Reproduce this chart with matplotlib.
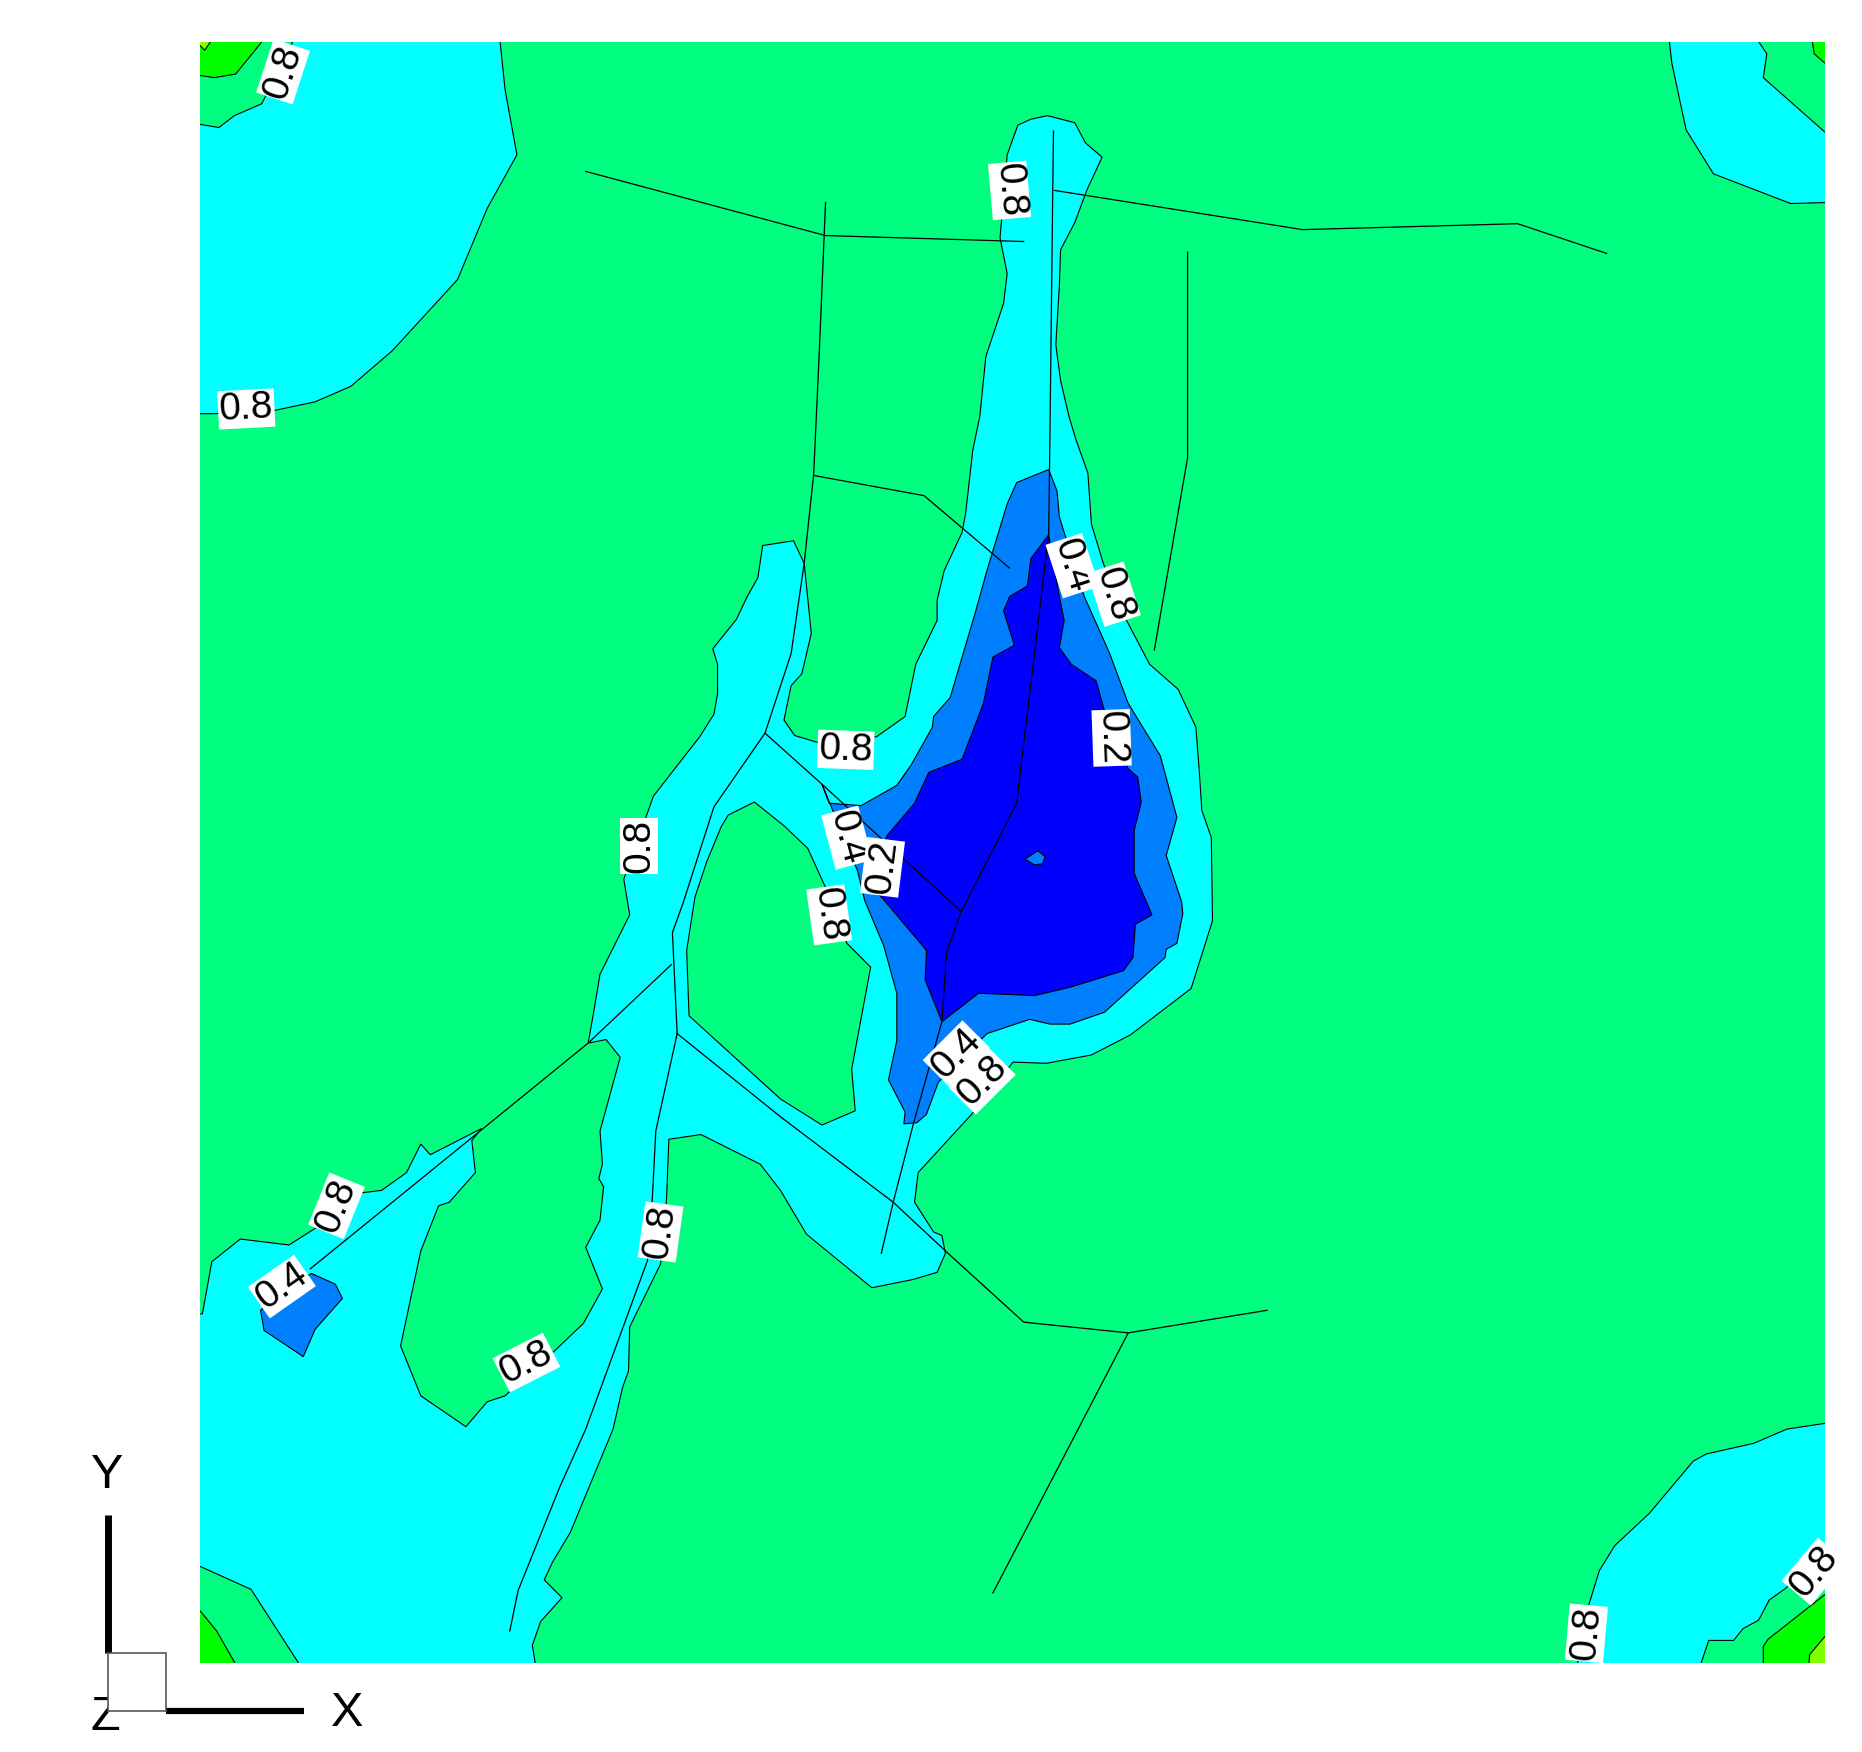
import matplotlib
matplotlib.use('Agg')
import matplotlib.pyplot as plt
from matplotlib.patches import Polygon, Rectangle

plt.rcParams['font.family'] = ['Liberation Sans', 'DejaVu Sans']

GREEN = '#00ff80'
CYAN = '#00ffff'
BLUE = '#0080ff'
DARK = '#0000ff'
LIME = '#00ff00'
YELLOW = '#80ff00'

# contour bands, vertices outside the box keep the outline off the frame
cyan_main = [(868,100),(882,97),(905,103),(914,120),(928,132),(915,160),(905,187),(893,210),(892,240),(889,290),
             (893,320),(900,350),(906,370),(916,398),(919,441),(929,474),(947,519),(968,559),(992,580),(1007,612),
             (1010,651),(1012,682),(1020,705),(1021,775),(1003,832),(952,871),(919,888),(881,895),(853,894),(818,938),
             (773,987),(770,1012),(786,1037),(793,1040),(796,1055),(789,1071),(769,1077),(734,1084),(679,1039),(657,1002),
             (640,980),(590,955),(563,959),(561,1010),(556,1064),(530,1117),(529,1154),(524,1168),(516,1203),(480,1290),
             (465,1315),(458,1330),(473,1345),(455,1365),(448,1385),(452,1410),(256,1410),(251,1400),(211,1338),(160,1315),
             (160,1106),(170,1106),(178,1062),(202,1043),(243,1048),(265,1034),(305,1004),(321,1002),(342,987),(354,963),
             (362,972),(405,950),(397,960),(400,987),(378,1012),(369,1015),(354,1053),(337,1133),(354,1175),(392,1201),
             (410,1180),(425,1175),(469,1135),(491,1114),(507,1085),(493,1050),(505,1027),(508,999),(504,992),(507,980),
             (505,952),(522,890),(510,875),(495,878),(500,850),(505,820),(530,770),(525,740),(550,670),(589,620),
             (601,601),(604,584),(604,559),(600,546),(620,521),(629,502),(638,486),(642,459),(668,455),(677,474),
             (683,533),(675,567),(666,577),(660,606),(669,619),(689,625),(738,620),(762,603),(771,559),(789,522),
             (789,505),(795,480),(810,448),(813,432),(819,379),(825,350),(830,300),(845,255),(848,230),(842,200),
             (848,130),(857,105)]
green_hole = [(635,675),(613,686),(607,696),(595,725),(585,755),(578,800),(580,855),(657,925),(692,947),(720,935),
              (717,900),(733,814),(713,794),(695,747),(680,714),(660,695)]
cyan_tl = [(160,103),(184,107),(197,97),(220,87),(250,27),(420,27),(425,75),(435,130),(410,175),(385,235),
           (330,295),(295,325),(265,338),(232,345),(180,348),(160,348)]
cyan_tr = [(1405,27),(1408,53),(1420,109),(1443,146),(1508,171),(1545,170),(1545,118),(1485,65),(1488,45),(1476,27)]
cyan_br = [(1545,1197),(1505,1203),(1477,1215),(1437,1224),(1426,1230),(1389,1274),(1360,1301),(1347,1322),(1338,1351),
           (1327,1408),(1430,1408),(1439,1381),(1460,1381),(1468,1371),(1481,1364),(1490,1347),(1504,1337),(1545,1292)]
lime_tl = [(160,27),(220,27),(220,35),(198,62),(180,65),(160,62)]
lime_tr = [(1525,27),(1528,45),(1545,60),(1545,27)]
lime_br = [(1545,1336),(1489,1380),(1485,1386),(1485,1408),(1545,1408)]
lime_bl = [(160,1348),(168,1356),(182,1373),(202,1408),(160,1408)]
yellow_tl = [(160,30),(172,42),(180,30)]
yellow_br = [(1545,1368),(1524,1393),(1523,1408),(1545,1408)]
blue_main = [(883,395),(890,413),(892,435),(913,502),(934,549),(950,592),(977,636),(991,688),(982,720),(995,759),
             (996,769),(991,794),(982,799),(981,806),(930,852),(901,862),(884,862),(867,858),(831,870),(790,911),
             (780,938),(772,945),(761,946),(762,936),(748,909),(755,876),(755,836),(744,796),(728,758),(722,733),
             (692,660),(698,676),(725,678),(755,661),(767,644),(785,612),(786,603),(800,587),(821,516),(831,480),
             (848,424),(856,406)]
blue_sw = [(219,1103),(240,1085),(262,1072),(282,1081),(288,1093),(265,1119),(255,1142),(222,1120)]
dark_main = [(883,450),(868,470),(865,493),(850,502),(845,514),(854,543),(836,553),(828,592),(810,639),(782,650),
             (770,676),(747,703),(730,744),(743,756),(780,800),(779,825),(793,860),(824,836),(871,838),(901,831),
             (946,817),(954,806),(956,778),(970,770),(955,735),(955,699),(961,675),(958,654),(950,647),(929,595),
             (923,573),(902,559),(892,545),(896,522),(892,502)]
blue_dot = [(863,723),(874,716),(880,721),(878,727),(871,728)]

bands = [(cyan_main, CYAN), (green_hole, GREEN), (cyan_tl, CYAN), (cyan_tr, CYAN), (cyan_br, CYAN),
         (lime_tl, LIME), (lime_tr, LIME), (lime_br, LIME), (lime_bl, LIME),
         (yellow_tl, YELLOW), (yellow_br, YELLOW),
         (blue_main, BLUE), (blue_sw, BLUE), (dark_main, DARK), (blue_dot, BLUE)]

# fractures
fractures = [
    [(493,144),(695,198),(862,203)],
    [(695,170),(690,290),(685,399),(677,474),(666,550),(644,617),(601,679),(575,760),(566,785),(570,870)],
    [(685,400),(778,417),(850,478)],
    [(644,617),(692,660),(809,767)],
    [(887,110),(884,370),(883,449),(856,676),(809,768),(797,801),(793,860),(769,946),(752,1012),(742,1055)],
    [(888,160),(1097,193),(1278,188),(1353,213)],
    [(1000,212),(1000,385),(972,547)],
    [(261,1068),(404,952),(495,878),(565,812)],
    [(570,870),(657,940),(752,1012),(796,1053),(862,1113),(950,1122),(1067,1103)],
    [(950,1122),(836,1341)],
    [(570,870),(552,952),(549,1010),(545,1061),(493,1203),(471,1252),(436,1339),(429,1373)],
]

# contour labels
label_text = ['0.8','0.8','0.8','0.4','0.8','0.2','0.8','0.8','0.4','0.2','0.8','0.4','0.8','0.8','0.4','0.8','0.8','0.8','0.8']
label_x = [238,207,850,903,938,936,712,538,713,743,698,805,827,283,237,556,443,1336,1528]
label_y = [60,344,160,476,500,621,631,712,705,730,770,887,910,1015,1083,1037,1147,1375,1323]
label_rot = [72,3,-85,-72,-72,-88,-2,90,-75,83,-82,45,45,68,35,82,27,85,50]

W, H = 1862, 1752
fig = plt.figure(figsize=(W/100, H/100), dpi=100, facecolor='white')

ax = fig.add_axes([200/W, 1-1663/H, 1625/W, 1621/H])
ax.set_xlim(168, 1537)
ax.set_ylim(1400, 35)
ax.set_facecolor(GREEN)
ax.set_xticks([])
ax.set_yticks([])
for s in ax.spines.values():
    s.set_visible(False)

for verts, col in bands:
    ax.add_patch(Polygon(verts, closed=True, facecolor=col, edgecolor='black', linewidth=0.8))
for f in fractures:
    ax.plot([p[0] for p in f], [p[1] for p in f], color='black', linewidth=0.9)
# labels get cut at top and bottom of the box but run over on the right
label_clip = Rectangle((100, 35), 1560, 1365, transform=ax.transData)
for t, x, y, r in zip(label_text, label_x, label_y, label_rot):
    lab = ax.text(x, y, t, rotation=r, rotation_mode='anchor', ha='center', va='center', fontsize=28, color='black',
                  bbox=dict(facecolor='white', edgecolor='none', pad=0.8), zorder=5)
    lab.set_clip_on(True)
    lab.set_clip_path(label_clip)

# axis triad, in figure pixels
tri = fig.add_axes([0, 0, 1, 1], facecolor='none')
tri.set_xlim(0, W)
tri.set_ylim(H, 0)
tri.axis('off')
tri.text(105, 1712, 'Z', fontsize=35, ha='center', va='center_baseline', color='black')
tri.add_patch(Rectangle((108, 1653), 58, 58, facecolor='white', edgecolor='#555555', linewidth=1.2, zorder=3))
tri.plot([108, 108], [1515, 1653], color='black', linewidth=5, solid_capstyle='butt')
tri.plot([166, 304], [1711, 1711], color='black', linewidth=4.5, solid_capstyle='butt')
tri.text(107, 1476, 'Y', fontsize=35, ha='center', va='center', color='black')
tri.text(347, 1714, 'X', fontsize=35, ha='center', va='center', color='black')

fig.savefig('out.png', dpi=100)
